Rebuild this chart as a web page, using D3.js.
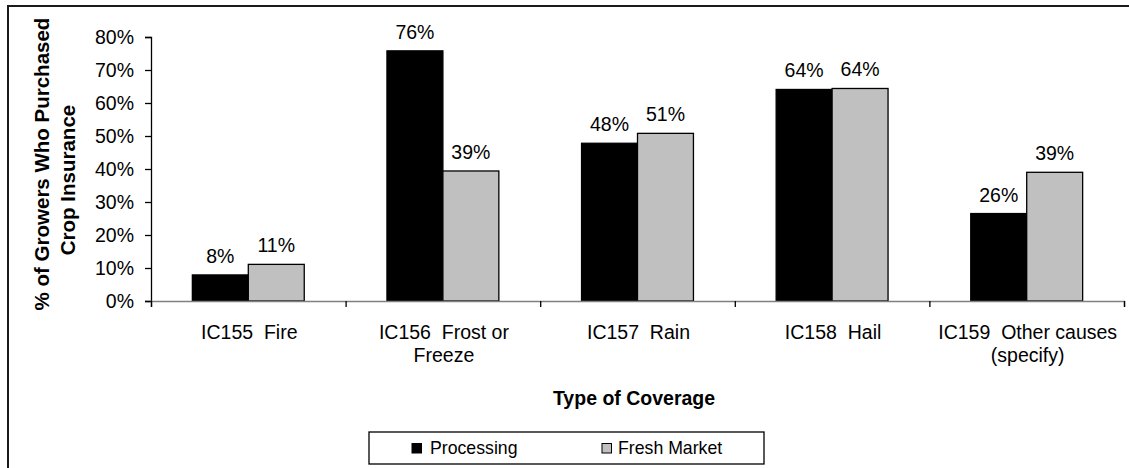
<!DOCTYPE html>
<html><head><meta charset="utf-8">
<script src="https://cdn.jsdelivr.net/npm/d3@7"></script>
<style>
html,body{margin:0;padding:0;background:#fff;}
svg{display:block;font-family:"Liberation Sans",Arial,sans-serif;}
</style></head>
<body><svg id="c" width="1129" height="468"></svg>
<script>
const categories = [["IC155  Fire"], ["IC156  Frost or", "Freeze"], ["IC157  Rain"], ["IC158  Hail"], ["IC159  Other causes", "(specify)"]];
const seriesNames = ["Processing", "Fresh Market"];
const processing = [7.9, 75.8, 47.8, 64.1, 26.5];
const freshMarket = [11.1, 39.4, 50.8, 64.4, 39.0];
const valueLabels = [["8%", "11%"], ["76%", "39%"], ["48%", "51%"], ["64%", "64%"], ["26%", "39%"]];
const yTicks = [0, 10, 20, 30, 40, 50, 60, 70, 80];
const colors = ["#000000", "#C0C0C0"];

(function () {
const svg = d3.select("#c");
// outer frame
svg.append("rect").attr("x", 8).attr("y", 6).attr("width", 1129).attr("height", 470)
  .attr("fill", "#fff").attr("stroke", "#1a1a1a").attr("stroke-width", 2);

const pLeft = 151, pRight = 1124, pTop = 37, pBottom = 301;
const x = d3.scaleBand().domain(d3.range(categories.length)).range([pLeft, pRight]).padding(0);
const y = d3.scaleLinear().domain([0, 80]).range([pBottom, pTop]);
const groupW = x.bandwidth() * 0.575;
const xs = d3.scaleBand().domain([0, 1]).range([0, groupW]).padding(0);

const series = [processing, freshMarket];

// bars
const g = svg.append("g");
categories.forEach((c, i) => {
  const gx = x(i) + (x.bandwidth() - groupW) / 2;
  series.forEach((s, k) => {
    g.append("rect")
      .attr("x", gx + xs(k)).attr("y", y(s[i]))
      .attr("width", xs.bandwidth()).attr("height", y(0) - y(s[i]))
      .attr("fill", colors[k]).attr("stroke", "#000").attr("stroke-width", 1.3);
    g.append("text")
      .attr("x", gx + xs(k) + xs.bandwidth() / 2).attr("y", y(s[i]) - 12)
      .attr("text-anchor", "middle").attr("font-size", 19.5).attr("fill", "#000")
      .text(valueLabels[i][k]);
  });
});

// y axis
const yAxis = d3.axisLeft(y).tickValues(yTicks).tickFormat(d => d + "%").tickSize(6).tickPadding(11);
const ya = svg.append("g").attr("transform", `translate(${pLeft},0)`).call(yAxis);
ya.select(".domain").attr("stroke", "#000").attr("stroke-width", 1.3);
ya.selectAll(".tick line").attr("stroke", "#000").attr("stroke-width", 1.3);
ya.selectAll(".tick text").attr("font-size", 19.5).attr("fill", "#000")
  .attr("font-family", "Liberation Sans, Arial, sans-serif");

// x axis
const xEdge = d3.scaleLinear().domain([0, categories.length]).range([pLeft, pRight]);
const xa = svg.append("g").attr("transform", `translate(0,${pBottom})`)
  .call(d3.axisBottom(xEdge).tickValues(d3.range(categories.length + 1)).tickSize(6).tickFormat(""));
xa.select(".domain").attr("stroke", "#808080").attr("stroke-width", 1.5);
xa.selectAll(".tick line").attr("stroke", "#000").attr("stroke-width", 1.3);

// category labels
categories.forEach((c, i) => {
  const t = svg.append("text").attr("text-anchor", "middle").attr("font-size", 19.5)
    .style("white-space", "pre").attr("fill", "#000");
  c.forEach((line, j) => {
    t.append("tspan").attr("x", x(i) + x.bandwidth() / 2 + 1).attr("y", 339 + j * 22.5).text(line);
  });
});

// axis titles
svg.append("text").attr("x", 634).attr("y", 405).attr("text-anchor", "middle")
  .attr("font-size", 19.5).attr("font-weight", "bold").text("Type of Coverage");
svg.append("text").attr("transform", "translate(49,164) rotate(-90)").attr("text-anchor", "middle")
  .attr("font-size", 20.5).attr("font-weight", "bold").text("% of Growers Who Purchased");
svg.append("text").attr("transform", "translate(75,180) rotate(-90)").attr("text-anchor", "middle")
  .attr("font-size", 20.5).attr("font-weight", "bold").text("Crop Insurance");

// legend
const lg = svg.append("g");
lg.append("rect").attr("x", 369).attr("y", 432).attr("width", 395).attr("height", 32)
  .attr("fill", "#fff").attr("stroke", "#000").attr("stroke-width", 1.3);
const legendX = [[412, 430], [602, 618]];
seriesNames.forEach((n, k) => {
  lg.append("rect").attr("x", legendX[k][0]).attr("y", 443.5).attr("width", 9.5).attr("height", 9.5)
    .attr("fill", colors[k]).attr("stroke", "#000").attr("stroke-width", 1);
  lg.append("text").attr("x", legendX[k][1]).attr("y", 454).attr("font-size", 17.7).text(n);
});
})();
</script></body></html>
